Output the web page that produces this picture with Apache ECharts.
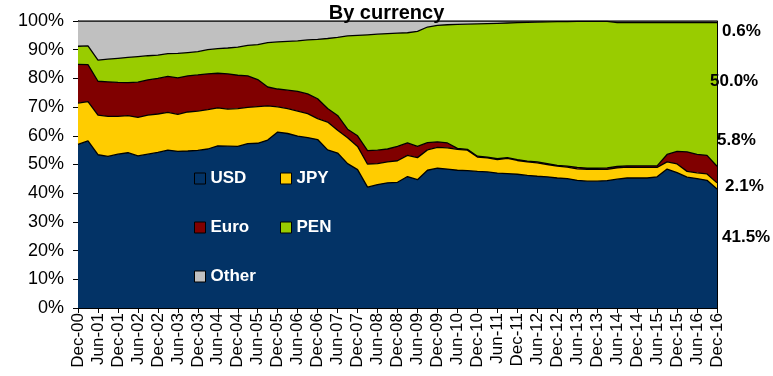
<!DOCTYPE html>
<html>
<head>
<meta charset="utf-8">
<script src="https://cdn.jsdelivr.net/npm/echarts@6/dist/echarts.min.js"></script>
<style>
  html, body { margin: 0; padding: 0; background: #fff; }
  #chart { width: 773px; height: 376px; }
</style>
</head>
<body>
<div id="chart"></div>
<script>
// quarterly, Dec-00 .. Dec-16
const quarters = [
  'Dec-00', 'Mar-01', 'Jun-01', 'Sep-01', 'Dec-01', 'Mar-02', 'Jun-02', 'Sep-02', 'Dec-02',
  'Mar-03', 'Jun-03', 'Sep-03', 'Dec-03', 'Mar-04', 'Jun-04', 'Sep-04', 'Dec-04',
  'Mar-05', 'Jun-05', 'Sep-05', 'Dec-05', 'Mar-06', 'Jun-06', 'Sep-06', 'Dec-06',
  'Mar-07', 'Jun-07', 'Sep-07', 'Dec-07', 'Mar-08', 'Jun-08', 'Sep-08', 'Dec-08',
  'Mar-09', 'Jun-09', 'Sep-09', 'Dec-09', 'Mar-10', 'Jun-10', 'Sep-10', 'Dec-10',
  'Mar-11', 'Jun-11', 'Sep-11', 'Dec-11', 'Mar-12', 'Jun-12', 'Sep-12', 'Dec-12',
  'Mar-13', 'Jun-13', 'Sep-13', 'Dec-13', 'Mar-14', 'Jun-14', 'Sep-14', 'Dec-14',
  'Mar-15', 'Jun-15', 'Sep-15', 'Dec-15', 'Mar-16', 'Jun-16', 'Sep-16', 'Dec-16'
]

const usd = [
  57.0, 58.2, 53.4, 52.8, 53.6, 54.1, 53.0, 53.6, 54.2,
  55.0, 54.6, 54.7, 54.9, 55.4, 56.5, 56.4, 56.3,
  57.3, 57.4, 58.5, 61.3, 60.8, 59.9, 59.4, 58.7,
  55.1, 54.0, 50.3, 48.2, 42.1, 43.0, 43.6, 43.8,
  45.8, 44.7, 48.0, 48.7, 48.4, 48.0, 47.9, 47.6,
  47.4, 47.0, 46.8, 46.6, 46.2, 45.9, 45.7, 45.3,
  45.1, 44.5, 44.2, 44.2, 44.4, 44.9, 45.3, 45.3,
  45.3, 45.7, 48.4, 47.2, 45.6, 45.1, 44.5, 41.5
]
const jpy = [
  14.4, 13.7, 13.8, 14.0, 13.2, 12.9, 13.4, 13.6, 13.4,
  13.2, 12.9, 13.6, 13.7, 13.7, 13.2, 12.9, 13.2,
  12.6, 12.8, 11.9, 8.8, 8.7, 8.7, 8.3, 7.3,
  9.7, 7.9, 9.0, 8.1, 8.0, 7.3, 7.3, 7.5,
  7.4, 7.7, 7.1, 7.3, 7.4, 7.3, 7.1, 5.0,
  4.9, 4.7, 5.3, 4.8, 4.7, 4.7, 4.3, 4.1,
  4.0, 4.0, 4.1, 4.1, 3.9, 3.9, 3.8, 3.7,
  3.7, 3.3, 2.5, 3.0, 2.0, 2.0, 2.2, 2.1
]
const euro = [
  13.5, 12.9, 11.8, 12.0, 11.8, 11.5, 12.3, 12.3, 12.4,
  12.5, 12.7, 12.6, 12.6, 12.5, 12.1, 12.3, 11.6,
  11.0, 9.4, 6.6, 6.2, 6.4, 6.9, 6.9, 6.9,
  4.7, 5.2, 3.0, 3.7, 4.7, 4.7, 4.5, 5.0,
  4.3, 3.9, 2.5, 1.9, 1.7, 0.3, 0.3, 0.3,
  0.3, 0.3, 0.3, 0.3, 0.3, 0.3, 0.3, 0.3,
  0.3, 0.5, 0.4, 0.4, 0.5, 0.5, 0.4, 0.5,
  0.5, 0.5, 2.6, 4.4, 6.8, 6.4, 6.5, 5.8
]
const pen = [
  6.3, 6.5, 7.4, 7.9, 8.4, 8.8, 8.9, 8.4, 8.1,
  7.9, 8.5, 8.1, 8.1, 8.4, 8.6, 9.0, 9.8,
  10.6, 12.2, 15.5, 16.4, 17.0, 17.6, 18.8, 20.7,
  24.4, 27.2, 32.5, 35.0, 40.4, 40.4, 40.2, 39.5,
  38.4, 40.1, 40.3, 40.6, 41.2, 43.2, 43.6, 46.1,
  46.5, 47.2, 46.9, 47.7, 48.3, 48.7, 49.4, 50.1,
  50.4, 50.9, 51.2, 51.2, 51.1, 50.1, 49.9, 49.9,
  49.9, 49.9, 45.9, 44.8, 45.0, 45.9, 46.2, 50.0
]
const other = [
  8.8, 8.7, 13.6, 13.3, 13.0, 12.7, 12.4, 12.1, 11.9,
  11.4, 11.3, 11.0, 10.7, 10.0, 9.6, 9.4, 9.1,
  8.5, 8.2, 7.5, 7.3, 7.1, 6.9, 6.6, 6.4,
  6.1, 5.7, 5.2, 5.0, 4.8, 4.6, 4.4, 4.2,
  4.1, 3.6, 2.1, 1.5, 1.3, 1.2, 1.1, 1.0,
  0.9, 0.8, 0.7, 0.6, 0.5, 0.4, 0.3, 0.2,
  0.2, 0.1, 0.1, 0.1, 0.1, 0.6, 0.6, 0.6,
  0.6, 0.6, 0.6, 0.6, 0.6, 0.6, 0.6, 0.6
]

// latest shares shown on the right
const endLabels = ['0.6%', '50.0%', '5.8%', '2.1%', '41.5%']

const font = 'Liberation Sans, Arial, sans-serif'

const seriesList = [
  { name: 'USD', data: usd, color: '#033366', z: 6 },
  { name: 'JPY', data: jpy, color: '#FFCC00', z: 5 },
  { name: 'Euro', data: euro, color: '#800000', z: 4 },
  { name: 'PEN', data: pen, color: '#99CC00', z: 3 },
  { name: 'Other', data: other, color: '#C0C0C0', z: 2 }
]

const chart = echarts.init(document.getElementById('chart'), null, { renderer: 'canvas' })

const legendBase = {
  orient: 'vertical',
  icon: 'rect',
  padding: 0,
  itemWidth: 11,
  itemHeight: 11,
  itemGap: 32,
  top: 170,
  z: 20,
  itemStyle: { borderColor: '#000', borderWidth: 1 },
  textStyle: { color: '#fff', fontWeight: 'bold', fontSize: 17, fontFamily: font, lineHeight: 17 }
}

const labelStyle = { font: 'bold 17px ' + font, fill: '#000' }

const option = {
  animation: false,
  title: {
    text: 'By currency',
    left: 'center',
    top: -2,
    textStyle: { fontSize: 20, fontWeight: 'bold', color: '#000', fontFamily: font }
  },
  legend: [
    Object.assign({}, legendBase, { left: 194, data: ['USD', 'Euro', 'Other'] }),
    Object.assign({}, legendBase, { left: 280, data: ['JPY', 'PEN'] })
  ],
  grid: { left: 78, right: 56, top: 21, bottom: 68 },
  xAxis: {
    type: 'category',
    boundaryGap: false,
    data: quarters,
    axisLine: { lineStyle: { color: '#000', width: 1 } },
    axisTick: { interval: 1, length: 5, lineStyle: { color: '#000' } },
    axisLabel: {
      interval: 1,
      rotate: 90,
      margin: 5,
      color: '#000',
      fontSize: 17,
      fontFamily: font
    }
  },
  yAxis: [
    {
      type: 'value',
      min: 0,
      max: 100,
      interval: 10,
      splitLine: { show: false },
      axisLine: { show: true, lineStyle: { color: '#000', width: 1 } },
      axisTick: { show: true, length: 5, lineStyle: { color: '#000' } },
      axisLabel: { formatter: '{value}%', color: '#000', fontSize: 18, fontFamily: font, margin: 14 }
    },
    {
      type: 'value',
      min: 0,
      max: 100,
      position: 'right',
      splitLine: { show: false },
      axisLine: { show: true, lineStyle: { color: '#000', width: 1 } },
      axisTick: { show: false },
      axisLabel: { show: false }
    }
  ],
  series: seriesList.map(s => ({
    name: s.name,
    type: 'line',
    stack: 'total',
    data: s.data,
    z: s.z,
    symbol: 'none',
    itemStyle: { color: s.color },
    lineStyle: { color: '#000', width: 1.3 },
    areaStyle: { color: s.color, opacity: 1 }
  })),
  graphic: [
    { type: 'text', z: 50, left: 722, top: 23, style: Object.assign({ text: endLabels[0] }, labelStyle) },
    { type: 'text', z: 50, left: 710, top: 73, style: Object.assign({ text: endLabels[1] }, labelStyle) },
    { type: 'text', z: 50, left: 717, top: 132, style: Object.assign({ text: endLabels[2] }, labelStyle) },
    { type: 'text', z: 50, left: 725, top: 178, style: Object.assign({ text: endLabels[3] }, labelStyle) },
    { type: 'text', z: 50, left: 722, top: 229, style: Object.assign({ text: endLabels[4] }, labelStyle) }
  ]
}

chart.setOption(option)
</script>
</body>
</html>
